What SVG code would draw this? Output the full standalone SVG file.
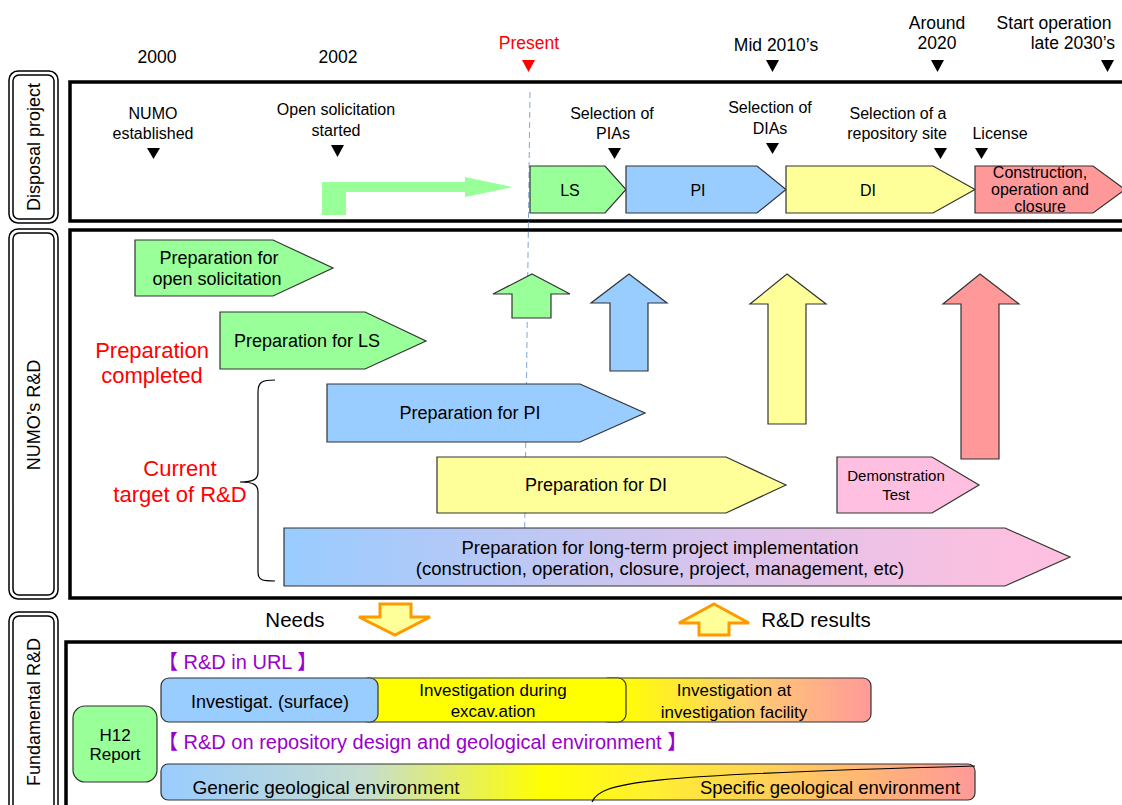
<svg xmlns="http://www.w3.org/2000/svg" width="1122" height="805" viewBox="0 0 1122 805">
  <defs>
    <style>
      text { font-family: "Liberation Sans", Arial, "Noto Sans CJK JP", sans-serif; fill: #000; }
      .c { text-anchor: middle; }
      .t16 { font-size: 16px; }
      .t17 { font-size: 17px; }
      .t18 { font-size: 18px; }
      .t20 { font-size: 20.5px; }
      .yr { font-size: 17.5px; }
      .red { fill: #FF0000; font-size: 22px; }
      .pur { fill: #9900CC; font-size: 20px; }
      .frame { fill: none; stroke: #000; stroke-width: 3.5; }
      .lbl-o { fill: #fff; stroke: #000; stroke-width: 1.5; }
      .lbl-i { fill: none; stroke: #000; stroke-width: 1.5; }
      .box { stroke: #333; stroke-width: 1.2; }
      .g { fill: #99FF99; }
      .b { fill: #99CCFF; }
      .y { fill: #FFFF99; }
      .r { fill: #FF9999; }
      .p { fill: #FFBFE0; }
      .tri { fill: #000; }
      .hollow { fill: #FFFF99; stroke: #FF9900; stroke-width: 3; stroke-linejoin: miter; }
    </style>
    <linearGradient id="gLong" x1="284" y1="0" x2="1070" y2="0" gradientUnits="userSpaceOnUse">
      <stop offset="0" stop-color="#99CCFF"/>
      <stop offset="0.55" stop-color="#D9C4EC"/>
      <stop offset="0.9" stop-color="#FBC0E0"/>
      <stop offset="1" stop-color="#FFBFE0"/>
    </linearGradient>
    <linearGradient id="gFacility" x1="620" y1="0" x2="871" y2="0" gradientUnits="userSpaceOnUse">
      <stop offset="0" stop-color="#FFFF00"/>
      <stop offset="0.5" stop-color="#FFD070"/>
      <stop offset="1" stop-color="#FF9999"/>
    </linearGradient>
    <linearGradient id="gGeo" x1="161" y1="0" x2="975" y2="0" gradientUnits="userSpaceOnUse">
      <stop offset="0" stop-color="#99CCFF"/>
      <stop offset="0.25" stop-color="#C6DDD0"/>
      <stop offset="0.47" stop-color="#FFFF00"/>
      <stop offset="0.6" stop-color="#FFF030"/>
      <stop offset="1" stop-color="#FF9999"/>
    </linearGradient>
  </defs>

  <rect width="1122" height="805" fill="#fff"/>

  <!-- time axis along the top -->
  <g id="timeline">
    <text class="yr c" x="157" y="63">2000</text>
    <text class="yr c" x="338" y="63">2002</text>
    <text class="c" x="529" y="49" style="font-size:17.5px;fill:#FF0000">Present</text>
    <polygon points="522,60 535,60 528.5,72" fill="#FF0000"/>
    <text class="yr c" x="776" y="51">Mid 2010’s</text>
    <polygon class="tri" points="766,60 779,60 772.5,72"/>
    <text class="yr c" x="937" y="29">Around</text>
    <text class="yr c" x="937" y="49">2020</text>
    <polygon class="tri" points="931,60 944,60 937.5,72"/>
    <text class="yr c" x="1054" y="29">Start operation</text>
    <text class="yr" x="1115" y="49" text-anchor="end">late 2030’s</text>
    <polygon class="tri" points="1101,60 1114,60 1107.5,72"/>
  </g>

  <!-- row labels -->
  <g id="label-disposal">
    <rect class="lbl-o" x="9" y="71" width="49" height="152" rx="9"/>
    <rect class="lbl-i" x="13" y="75" width="41" height="144" rx="6"/>
    <text class="t18 c" transform="translate(40,147) rotate(-90)">Disposal project</text>
  </g>
  <g id="label-numo-rd">
    <rect class="lbl-o" x="9" y="229" width="49" height="370" rx="9"/>
    <rect class="lbl-i" x="13" y="233" width="41" height="362" rx="6"/>
    <text class="t18 c" transform="translate(40,415) rotate(-90)">NUMO’s R&amp;D</text>
  </g>
  <g id="label-fundamental">
    <rect class="lbl-o" x="9" y="612" width="49" height="210" rx="9"/>
    <rect class="lbl-i" x="13" y="616" width="41" height="202" rx="6"/>
    <text class="t18 c" transform="translate(40,712) rotate(-90)">Fundamental R&amp;D</text>
  </g>

  <!-- section frames -->
  <g id="frames">
    <rect class="frame" x="70" y="82" width="1070" height="139"/>
    <rect class="frame" x="70" y="230" width="1070" height="368"/>
    <rect class="frame" x="66" y="642" width="1080" height="200"/>
  </g>

  <!-- present-day marker -->
  <line id="present-line" x1="530" y1="92" x2="524" y2="586" stroke="#7FA7D9" stroke-width="1" stroke-dasharray="6,4"/>

  <!-- disposal project milestones -->
  <g id="milestone-numo">
    <text class="t16 c" x="153" y="119">NUMO</text>
    <text class="t16 c" x="153" y="139">established</text>
    <polygon class="tri" points="147,148 160,148 153.5,159"/>
  </g>
  <g id="milestone-solicitation">
    <text class="t16 c" x="336" y="115">Open solicitation</text>
    <text class="t16 c" x="336" y="136">started</text>
    <polygon class="tri" points="331,145 344,145 337.5,157"/>
  </g>
  <g id="milestone-pias">
    <text class="t16 c" x="612" y="119">Selection of</text>
    <text class="t16 c" x="613" y="139">PIAs</text>
    <polygon class="tri" points="608,148 621,148 614.5,159"/>
  </g>
  <g id="milestone-dias">
    <text class="t16 c" x="770" y="113">Selection of</text>
    <text class="t16 c" x="770" y="134">DIAs</text>
    <polygon class="tri" points="766,143 779,143 772.5,154"/>
  </g>
  <g id="milestone-site">
    <text class="t16 c" x="898" y="119">Selection of a</text>
    <text class="t16 c" x="897" y="139">repository site</text>
    <polygon class="tri" points="934,148 947,148 940.5,159"/>
  </g>
  <g id="milestone-license">
    <text class="t16 c" x="1000" y="139">License</text>
    <polygon class="tri" points="975,148 988,148 981.5,159"/>
  </g>

  <!-- disposal project stages -->
  <g id="solicitation-path">
    <polygon class="g" points="322,182 465,182 465,177 513,187 465,197 465,192 346,192 346,215 322,215"/>
  </g>
  <g id="stage-ls">
    <polygon class="box g" points="530,166 605,166 626,189.5 605,213 530,213"/>
    <text class="t16 c" x="570" y="196">LS</text>
  </g>
  <g id="stage-pi">
    <polygon class="box b" points="626,166 757,166 786,189.5 757,213 626,213"/>
    <text class="t16 c" x="698" y="196">PI</text>
  </g>
  <g id="stage-di">
    <polygon class="box y" points="786,166 933,166 975,189.5 933,213 786,213"/>
    <text class="t16 c" x="868" y="196">DI</text>
  </g>
  <g id="stage-construction">
    <polygon class="box r" points="975,166 1093,166 1125,189.5 1093,213 975,213"/>
    <text class="t16 c" x="1040" y="178">Construction,</text>
    <text class="t16 c" x="1040" y="195">operation and</text>
    <text class="t16 c" x="1040" y="212">closure</text>
  </g>

  <!-- NUMO R&D -->
  <g id="prep-solicitation">
    <polygon class="box g" points="135,240 273,240 333,268 273,296 135,296"/>
    <text class="t18 c" x="219" y="264">Preparation for</text>
    <text class="t18 c" x="217" y="285">open solicitation</text>
  </g>
  <g id="prep-ls">
    <polygon class="box g" points="220,312 365,312 426,341 365,369 220,369"/>
    <text class="t18 c" x="307" y="347">Preparation for LS</text>
  </g>
  <g id="note-completed">
    <text class="red c" x="152" y="358">Preparation</text>
    <text class="red c" x="152" y="383">completed</text>
  </g>
  <g id="note-current">
    <text class="red c" x="180" y="476">Current</text>
    <text class="red c" x="180" y="502">target of R&amp;D</text>
    <path d="M275,380 C262,380 258,382 258,392 L258,472 C258,479 254,482 240,482 C254,482 258,485 258,492 L258,572 C258,580 262,581 275,581" fill="none" stroke="#000" stroke-width="1.2"/>
  </g>
  <g id="prep-pi">
    <polygon class="box b" points="327,384 580,384 645,413 580,442 327,442"/>
    <text class="t18 c" x="470" y="419">Preparation for PI</text>
  </g>
  <g id="prep-di">
    <polygon class="box y" points="437,457 726,457 786,485 726,513 437,513"/>
    <text class="t18 c" x="596" y="491">Preparation for DI</text>
  </g>
  <g id="demo-test">
    <polygon class="box p" points="837,457 932,457 979,485 932,513 837,513"/>
    <text class="c" x="896" y="481" style="font-size:15px">Demonstration</text>
    <text class="c" x="896" y="500" style="font-size:15px">Test</text>
  </g>
  <g id="prep-long-term">
    <polygon class="box" fill="url(#gLong)" points="284,528 1005,528 1070,557 1005,586 284,586"/>
    <text class="c" x="660" y="554" style="font-size:18.5px">Preparation for long-term project implementation</text>
    <text class="c" x="660" y="575" style="font-size:18.5px">(construction, operation, closure, project, management, etc)</text>
  </g>

  <!-- arrows linking the R&D work to project stages and to fundamental R&D -->
  <g id="connectors">
    <polygon class="box g" points="532,274 570,294 551,294 551,318 512,318 512,294 493,294"/>
    <polygon class="box b" points="629,274 667,303 648,303 648,371 610,371 610,303 591,303"/>
    <polygon class="box y" points="787,274 826,304 806,304 806,424 768,424 768,304 750,304"/>
    <polygon class="box r" points="980,274 1019,304 999,304 999,459 961,459 961,304 943,304"/>
    <polygon class="hollow" points="380,604 411,604 411,617 430,617 395,635 359,617 380,617"/>
    <polygon class="hollow" points="714,604 749,623 729,623 729,635 699,635 699,623 679,623"/>
    <text class="t20 c" x="295" y="627">Needs</text>
    <text class="t20 c" x="816" y="627">R&amp;D results</text>
  </g>

  <!-- fundamental R&D -->
  <g id="h12-report">
    <rect class="box g" x="73" y="706" width="84" height="76" rx="12"/>
    <text class="t17 c" x="115" y="741">H12</text>
    <text class="t17 c" x="115" y="760">Report</text>
  </g>
  <g id="url-heading">
    <text class="pur" x="158" y="669">【 R&amp;D in URL 】</text>
  </g>
  <g id="url-facility">
    <rect class="box" fill="url(#gFacility)" x="600" y="678" width="271" height="44" rx="8"/>
    <text class="t17 c" x="734" y="696">Investigation at</text>
    <text class="t17 c" x="734" y="718">investigation facility</text>
  </g>
  <g id="url-excavation">
    <rect class="box" fill="#FFFF00" x="360" y="678" width="266" height="44" rx="8"/>
    <text class="t17 c" x="493" y="696">Investigation during</text>
    <text class="t17 c" x="493" y="717">excav.ation</text>
  </g>
  <g id="url-surface">
    <rect class="box b" x="161" y="678" width="217" height="44" rx="8"/>
    <text class="t18 c" x="270" y="708">Investigat. (surface)</text>
  </g>
  <g id="design-heading">
    <text class="pur" x="158" y="749">【 R&amp;D on repository design and geological environment 】</text>
  </g>
  <g id="geo-environment">
    <rect class="box" fill="url(#gGeo)" x="161" y="764" width="814" height="36" rx="7"/>
    <path d="M592,802 C600,782 640,775 975,766" fill="none" stroke="#000" stroke-width="1.2"/>
    <text class="c" x="326" y="794" style="font-size:19px">Generic geological environment</text>
    <text class="c" x="830" y="794" style="font-size:18.5px">Specific geological environment</text>
  </g>
</svg>
